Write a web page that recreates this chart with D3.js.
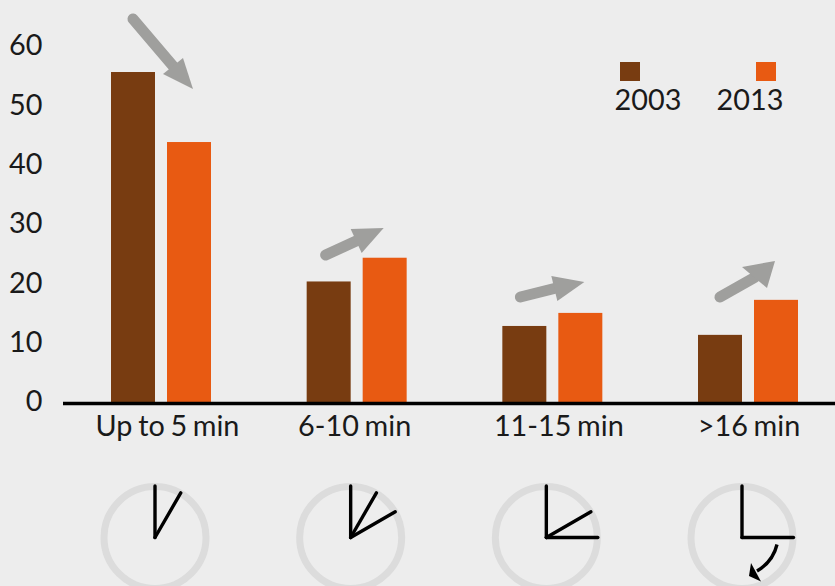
<!DOCTYPE html>
<html><head><meta charset="utf-8">
<script src="https://cdn.jsdelivr.net/npm/d3@7"></script>
<style>
html,body{margin:0;padding:0;background:#ededed;}
svg{display:block;}
text{font-family:Lato,sans-serif;fill:#1a1a1a;}
</style></head><body>
<svg id="c" width="835" height="586"></svg>
<script>
const categories = ["Up to 5 min","6-10 min","11-15 min",">16 min"];
const years = ["2003","2013"];
const values2003 = [55.7,20.4,12.9,11.4];
const values2013 = [43.9,24.4,15.1,17.3];
const yTicks = [0,10,20,30,40,50,60];
// clock hands, in minutes past the hour
const clockHands = [[0,5],[0,5,10],[0,10,15],[0,15]];

const W=835,H=586,FS=28.8;
const colors={"2003":"#783c11","2013":"#e85a12"};
const svg=d3.select("#c");
const x=d3.scaleBand().domain(categories).range([111,798]).paddingInner(1-100/195.67).paddingOuter(0);
const xi=d3.scaleBand().domain(years).range([0,x.bandwidth()]).paddingInner(12/56).paddingOuter(0);
const y=d3.scaleLinear().domain([0,60]).range([402.5,46.5]);

// bars
years.forEach((yr,k)=>{
  const vals=k===0?values2003:values2013;
  svg.append("g").selectAll("rect").data(categories).join("rect")
    .attr("x",c=>x(c)+xi(yr)).attr("width",xi.bandwidth())
    .attr("y",(c,i)=>y(vals[i])).attr("height",(c,i)=>y(0)-y(vals[i]))
    .attr("fill",colors[yr]);
});

// y axis
const ya=svg.append("g").attr("transform","translate(42.5,-1)")
  .call(d3.axisLeft(y).tickValues(yTicks).tickSize(0).tickPadding(0));
ya.select(".domain").remove();
ya.selectAll("text").attr("font-size",FS).attr("dy","0.32em").attr("x",0);

// x axis
const labelShift=[6.5,-2,6.5,1];
const xa=svg.append("g").attr("transform",`translate(0,${y(0)})`)
  .call(d3.axisBottom(x).tickSize(0).tickPadding(0));
xa.select(".domain").remove();
svg.append("line").attr("x1",63).attr("x2",W).attr("y1",y(0)+1).attr("y2",y(0)+1).attr("stroke","#000").attr("stroke-width",3.4);
xa.selectAll("text").attr("font-size",FS).attr("y",0).attr("dy","33").attr("x",(d,i)=>labelShift[i]).attr("word-spacing",-1.7);

// legend
const legendX=d3.scalePoint().domain(years).range([648,750]);
const swatchX={"2003":620,"2013":756};
years.forEach(yr=>{
  svg.append("rect").attr("x",swatchX[yr]).attr("y",62).attr("width",20).attr("height",19).attr("fill",colors[yr]);
  svg.append("text").attr("x",legendX(yr)).attr("y",110).attr("text-anchor","middle").attr("font-size",FS).text(yr);
});

// trend arrows, anchored to the bars they describe
const trend=[
 {cat:0,tail:[-28,19],tip:[32,89],b1:[2,74],b2:[22,58]},
 {cat:1,tail:[-31,255],tip:[27,228],b1:[-6,229],b2:[5,253]},
 {cat:2,tail:[-32,297],tip:[32,282],b1:[-1,276],b2:[5,301]},
 {cat:3,tail:[-28,297],tip:[27,261],b1:[-6,267],b2:[19,288]}
];
trend.forEach(t=>{
  const cx=x(categories[t.cat])+x.bandwidth()/2;
  const P=p=>[cx+p[0],p[1]];
  const tip=P(t.tip),b1=P(t.b1),b2=P(t.b2),tail=P(t.tail);
  const mid=[(b1[0]+b2[0])/2,(b1[1]+b2[1])/2];
  svg.append("line").attr("x1",tail[0]).attr("y1",tail[1]).attr("x2",mid[0]).attr("y2",mid[1])
    .attr("stroke","#9f9f9d").attr("stroke-width",11).attr("stroke-linecap","round");
  svg.append("path").attr("d",d3.line()([tip,b1,b2])+"Z").attr("fill","#9f9f9d");
});

// clocks
const clockY=537.5,clockR=51,handR=51.5;
const ang=d3.scaleLinear().domain([0,60]).range([0,2*Math.PI]);
clockHands.forEach((hands,i)=>{
  const cx=x(categories[i])+x.bandwidth()/2-6;
  const g=svg.append("g").attr("transform",`translate(${cx},${clockY})`);
  g.append("circle").attr("r",clockR).attr("fill","none").attr("stroke","#dcdcdc").attr("stroke-width",7);
  hands.forEach(m=>{
    g.append("path").attr("d",d3.lineRadial()([[0,0],[ang(m),handR]]))
     .attr("stroke","#000").attr("stroke-width",3.4).attr("stroke-linecap","round").attr("fill","none");
  });
  if(i===3){
    g.append("path").attr("d","M35,7 Q31,24 15,33.5").attr("fill","none").attr("stroke","#000").attr("stroke-width",3.4);
    g.append("path").attr("d","M9,25.5 L19,44 L7,38.5 Z").attr("fill","#000");
  }
});
</script>
</body></html>
